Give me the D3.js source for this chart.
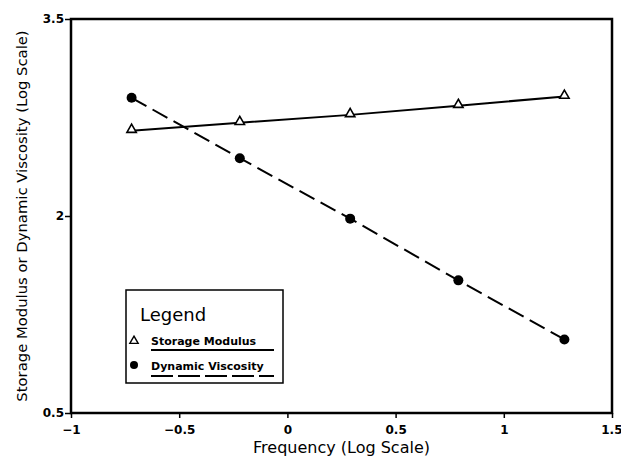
<!DOCTYPE html>
<html>
<head>
<meta charset="utf-8">
<script src="https://cdn.jsdelivr.net/npm/d3@7"></script>
<style>
  body { margin: 0; background: #fff; }
  svg { display: block; font-family: "DejaVu Sans", sans-serif; }
  .tick text { font-family: "DejaVu Sans", sans-serif; font-weight: 700; font-size: 12px; }
</style>
</head>
<body>
<svg id="chart"></svg>
<script>
const frequency = [-0.72, -0.22, 0.29, 0.79, 1.28];
const storageModulus = [2.65, 2.71, 2.77, 2.84, 2.91];
const dynamicViscosity = [2.9, 2.44, 1.98, 1.51, 1.06];
const xTicks = [-1, -0.5, 0, 0.5, 1, 1.5];
const xTickLabels = ["\u22121", "\u22120.5", "0", "0.5", "1", "1.5"];
const yTicks = [0.5, 2, 3.5];
const yTickLabels = ["0.5", "2", "3.5"];

const width = 621;
const height = 461;
const margin = { top: 19, right: 9, bottom: 48, left: 71 };

const svg = d3.select("#chart").attr("width", width).attr("height", height);

const x = d3.scaleLinear().domain([-1, 1.5]).range([margin.left, width - margin.right]);
const y = d3.scaleLinear().domain([0.5, 3.5]).range([height - margin.bottom, margin.top]);

// axes
const xAxis = d3.axisBottom(x)
  .tickValues(xTicks)
  .tickSize(5)
  .tickFormat((d, i) => xTickLabels[i]);
const yAxis = d3.axisLeft(y)
  .tickValues(yTicks)
  .tickSize(6)
  .tickFormat((d, i) => yTickLabels[i]);

const gx = svg.append("g")
  .attr("transform", `translate(0,${y(0.5)})`)
  .call(xAxis);
gx.select(".domain").remove();
gx.selectAll("line").attr("stroke", "#000").attr("stroke-width", 1.5);
gx.selectAll("text")
  .attr("dy", "1.05em")
  .attr("fill", "#000");
// keep the last label inside the page
gx.selectAll("text").filter(d => d === 1.5).attr("text-anchor", "end").attr("dx", 10);

const gy = svg.append("g")
  .attr("transform", `translate(${x(-1)},0)`)
  .call(yAxis);
gy.select(".domain").remove();
gy.selectAll("line").attr("stroke", "#000").attr("stroke-width", 1.5);
gy.selectAll("text")
  .attr("x", -7)
  .attr("fill", "#000");

// frame
svg.append("rect")
  .attr("x", x(-1))
  .attr("y", y(3.5))
  .attr("width", x(1.5) - x(-1))
  .attr("height", y(0.5) - y(3.5))
  .attr("fill", "none")
  .attr("stroke", "#000")
  .attr("stroke-width", 2.5);

// axis titles
svg.append("text")
  .attr("x", (x(-1) + x(1.5)) / 2)
  .attr("y", 453)
  .attr("text-anchor", "middle")
  .style("font-size", "16px")
  .text("Frequency (Log Scale)");

svg.append("text")
  .attr("transform", `translate(27,${(y(0.5) + y(3.5)) / 2}) rotate(-90)`)
  .attr("text-anchor", "middle")
  .style("font-size", "14.8px")
  .text("Storage Modulus or Dynamic Viscosity (Log Scale)");

// lines
const storageData = frequency.map((f, i) => [f, storageModulus[i]]);
const viscosityData = frequency.map((f, i) => [f, dynamicViscosity[i]]);
const line = d3.line().x(d => x(d[0])).y(d => y(d[1]));

svg.append("path")
  .datum(storageData)
  .attr("d", line)
  .attr("fill", "none")
  .attr("stroke", "#000")
  .attr("stroke-width", 2);

svg.append("path")
  .datum(viscosityData)
  .attr("d", line)
  .attr("fill", "none")
  .attr("stroke", "#000")
  .attr("stroke-width", 2)
  .attr("stroke-dasharray", "17,7");

const triangle = d3.symbol().type(d3.symbolTriangle).size(38);

svg.append("g")
  .selectAll("path")
  .data(storageData)
  .enter()
  .append("path")
  .attr("d", triangle)
  .attr("transform", d => `translate(${x(d[0])},${y(d[1]) - 1})`)
  .attr("fill", "#fff")
  .attr("stroke", "#000")
  .attr("stroke-width", 1.6);

svg.append("g")
  .selectAll("circle")
  .data(viscosityData)
  .enter()
  .append("circle")
  .attr("cx", d => x(d[0]))
  .attr("cy", d => y(d[1]))
  .attr("r", 5)
  .attr("fill", "#000");

// legend
const legend = svg.append("g").attr("transform", "translate(126,290)");

legend.append("rect")
  .attr("width", 157)
  .attr("height", 93)
  .attr("fill", "#fff")
  .attr("stroke", "#000")
  .attr("stroke-width", 1.5);

legend.append("text")
  .attr("x", 14)
  .attr("y", 31)
  .style("font-size", "18px")
  .text("Legend");

legend.append("path")
  .attr("d", d3.symbol().type(d3.symbolTriangle).size(30))
  .attr("transform", "translate(8,51)")
  .attr("fill", "#fff")
  .attr("stroke", "#000")
  .attr("stroke-width", 1.4);

legend.append("text")
  .attr("x", 25)
  .attr("y", 55)
  .style("font-size", "11px")
  .style("font-weight", "bold")
  .text("Storage Modulus");

legend.append("line")
  .attr("x1", 25).attr("x2", 148)
  .attr("y1", 60).attr("y2", 60)
  .attr("stroke", "#000")
  .attr("stroke-width", 1.8);

legend.append("circle")
  .attr("cx", 8)
  .attr("cy", 75)
  .attr("r", 4)
  .attr("fill", "#000");

legend.append("text")
  .attr("x", 25)
  .attr("y", 80)
  .style("font-size", "11px")
  .style("font-weight", "bold")
  .text("Dynamic Viscosity");

legend.append("line")
  .attr("x1", 25).attr("x2", 148)
  .attr("y1", 86).attr("y2", 86)
  .attr("stroke", "#000")
  .attr("stroke-width", 1.8)
  .attr("stroke-dasharray", "22,5");
</script>
</body>
</html>
